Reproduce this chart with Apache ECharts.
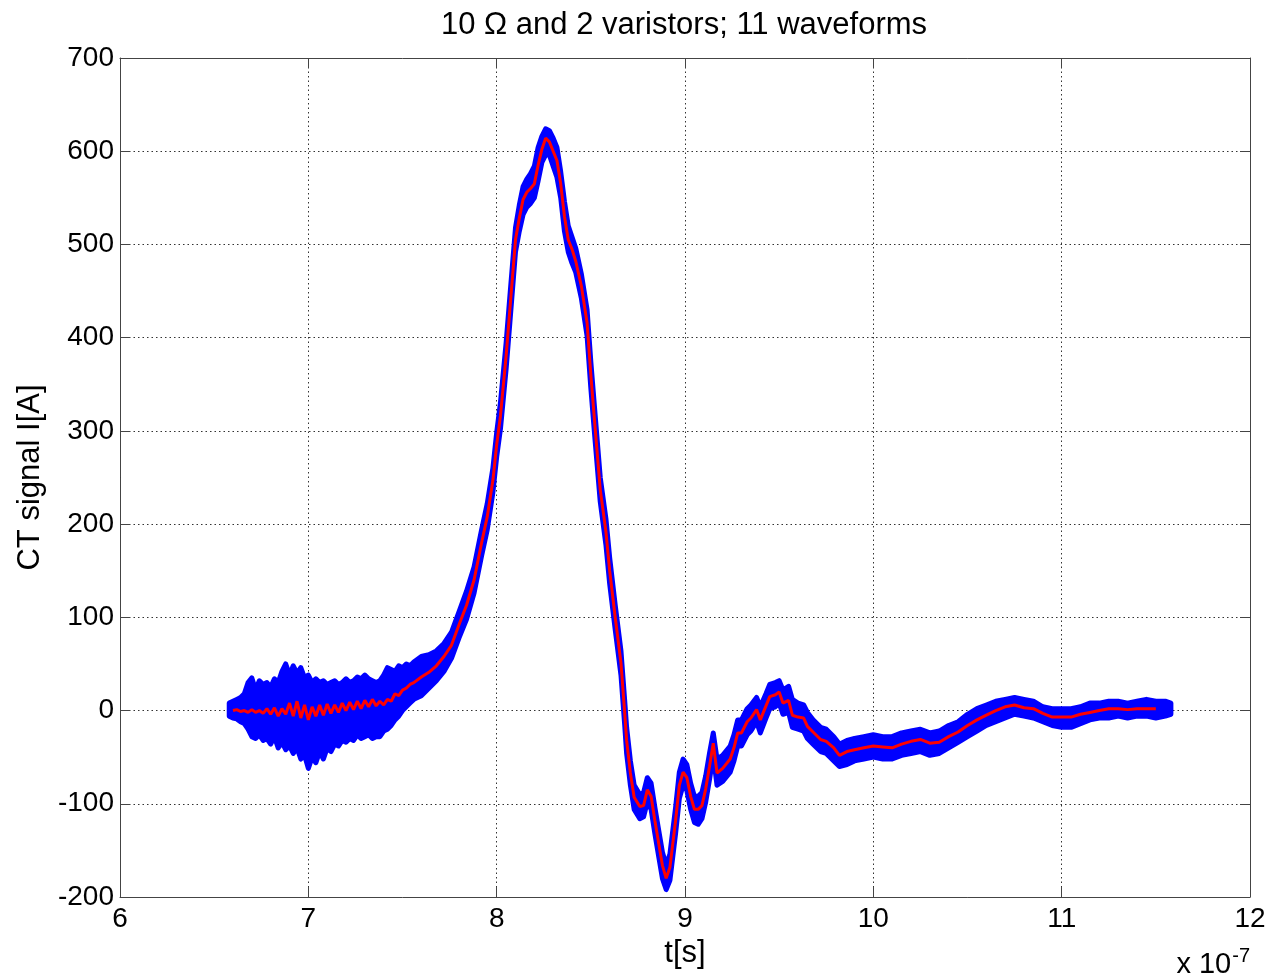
<!DOCTYPE html>
<html>
<head>
<meta charset="utf-8">
<title>CT signal</title>
<script src="https://cdn.jsdelivr.net/npm/echarts@6/dist/echarts.min.js"></script>
<style>
    html, body { margin: 0; padding: 0; background: #fff; }
    #chart { width: 1269px; height: 980px; }
</style>
</head>
<body>
<div id="chart"></div>
<script>
// time axis, in units of 1e-7 s
var T = [
    6.58, 6.60, 6.62, 6.64, 6.66, 6.68, 6.70, 6.72, 6.74, 6.76, 6.78, 6.80, 6.82, 6.84, 6.86, 6.88, 6.90, 6.92, 6.94, 6.96,
    6.98, 7.00, 7.02, 7.04, 7.06, 7.08, 7.10, 7.12, 7.14, 7.16, 7.18, 7.20, 7.22, 7.24, 7.26, 7.28, 7.30, 7.32, 7.34, 7.36,
    7.38, 7.40, 7.42, 7.44, 7.46, 7.48, 7.50, 7.52, 7.54, 7.56, 7.60, 7.64, 7.68, 7.72, 7.76, 7.80, 7.84, 7.88, 7.92, 7.95,
    7.98, 8.00, 8.02, 8.05, 8.07, 8.10, 8.12, 8.14, 8.16, 8.18, 8.20, 8.22, 8.24, 8.26, 8.28, 8.30, 8.32, 8.34, 8.36, 8.38,
    8.40, 8.42, 8.45, 8.48, 8.50, 8.52, 8.55, 8.58, 8.60, 8.63, 8.66, 8.68, 8.69, 8.71, 8.73, 8.76, 8.78, 8.80, 8.82, 8.84,
    8.86, 8.88, 8.90, 8.92, 8.95, 8.97, 8.99, 9.01, 9.03, 9.05, 9.07, 9.09, 9.11, 9.13, 9.15, 9.17, 9.20, 9.24, 9.26, 9.28,
    9.30, 9.33, 9.35, 9.38, 9.40, 9.43, 9.45, 9.48, 9.50, 9.52, 9.55, 9.57, 9.60, 9.63, 9.65, 9.68, 9.72, 9.75, 9.79, 9.82,
    9.86, 9.90, 9.95, 10.00, 10.05, 10.10, 10.15, 10.20, 10.25, 10.30, 10.35, 10.40, 10.45, 10.50, 10.55, 10.60, 10.65, 10.70, 10.75, 10.80,
    10.85, 10.90, 10.95, 11.00, 11.05, 11.10, 11.15, 11.20, 11.25, 11.30, 11.35, 11.40, 11.45, 11.50, 11.55, 11.58
];

// red: mean of the 11 waveforms [A]
var MEAN = [
    null, 0, 1, -1, 0, -2, 1, -2, 0, -3, 2, -4, 3, -6, 2, -4, 8, -6, 10, -8,
    6, -10, 4, -6, 6, -5, 7, -3, 6, -2, 8, 0, 9, 1, 10, 2, 11, 4, 12, 5,
    10, 6, 12, 10, 18, 16, 22, 24, 28, 30, 36, 41, 48, 58, 70, 92, 113, 140, 180, 208,
    247, 285, 316, 380, 430, 505, 528, 548, 556, 560, 565, 585, 602, 614, 610, 600, 590, 565, 530, 505,
    495, 482, 455, 416, 360, 310, 237, 192, 150, 99, 51, -3, -32, -67, -93, -103, -102, -85, -92, -118,
    -142, -166, -180, -168, -118, -80, -66, -72, -92, -106, -106, -102, -84, -60, -35, -67, -62, -52, -40, -24,
    -24, -12, -8, 1, -10, 5, 15, 17, 20, 8, 11, -5, -7, -8, -17, -23, -31, -33, -40, -48,
    -44, -42, -40, -38, -39, -40, -36, -33, -31, -35, -34, -28, -23, -16, -10, -5, 0, 4, 6, 3,
    2, -3, -7, -7, -7, -4, -2, 0, 2, 2, 1, 2, 2, 2, null, null
];

// blue: upper and lower edge of the scattered waveform points [A]
var UPPER = [
    8, 10, 12, 14, 18, 30, 35, 22, 32, 28, 30, 25, 34, 30, 42, 50, 38, 48, 40, 46,
    35, 38, 30, 34, 30, 32, 28, 30, 32, 28, 30, 34, 30, 32, 36, 34, 38, 34, 32, 30,
    32, 38, 46, 44, 42, 48, 46, 50, 48, 52, 58, 60, 64, 72, 84, 106, 128, 154, 194, 222,
    260, 298, 330, 394, 444, 518, 542, 562, 570, 576, 584, 604, 616, 624, 622, 614, 604, 578, 546, 520,
    508, 496, 468, 430, 374, 324, 250, 206, 164, 112, 64, 10, -18, -54, -80, -90, -88, -72, -78, -104,
    -128, -152, -166, -154, -104, -66, -52, -58, -78, -92, -92, -88, -70, -46, -24, -52, -48, -38, -26, -10,
    -10, 2, 6, 14, 4, 18, 28, 30, 32, 22, 26, 12, 8, 6, -2, -10, -18, -20, -28, -36,
    -32, -30, -28, -26, -28, -28, -24, -22, -20, -24, -22, -16, -12, -4, 2, 6, 10, 12, 14, 12,
    10, 4, 2, 2, 2, 4, 8, 8, 10, 10, 8, 10, 12, 10, 10, 8
];
var LOWER = [
    -6, -8, -9, -12, -14, -20, -28, -30, -26, -32, -30, -36, -28, -40, -34, -42, -38, -46, -40, -52,
    -48, -62, -50, -56, -44, -52, -40, -44, -36, -38, -32, -34, -30, -32, -26, -30, -28, -26, -30, -28,
    -28, -22, -20, -16, -10, -6, 0, 4, 8, 12, 16, 24, 32, 42, 56, 78, 98, 126, 166, 194,
    234, 272, 302, 366, 416, 492, 514, 532, 540, 544, 550, 568, 588, 596, 596, 584, 572, 550, 514, 492,
    480, 470, 442, 402, 346, 296, 224, 178, 136, 86, 38, -16, -46, -80, -106, -116, -114, -98, -106, -132,
    -156, -180, -192, -182, -132, -94, -80, -86, -106, -120, -122, -116, -98, -74, -48, -80, -76, -66, -54, -38,
    -38, -26, -22, -12, -24, -8, 2, 4, 8, -4, -2, -18, -20, -22, -30, -36, -44, -46, -54, -60,
    -58, -54, -52, -50, -52, -52, -48, -46, -44, -48, -46, -40, -34, -28, -22, -16, -12, -8, -4, -6,
    -8, -12, -16, -18, -18, -14, -10, -8, -8, -6, -8, -6, -6, -8, -6, -4
];

var X_TICKS = [6, 7, 8, 9, 10, 11, 12];
var Y_TICKS = [-200, -100, 0, 100, 200, 300, 400, 500, 600, 700];

var FONT = '"Liberation Sans", Arial, Helvetica, sans-serif';
var AXIS_COLOR = '#444';

var chart = echarts.init(document.getElementById('chart'), null, { renderer: 'canvas' });

var meanData = T.map(function (t, i) { return [t, MEAN[i]]; });
var bandData = T.map(function (t, i) { return [t, LOWER[i], UPPER[i]]; });

// whole blue band is drawn once, as one polygon through the axis scales
function renderBand(params, api) {
    if (params.dataIndex !== 0) return null;
    var pts = [];
    var i;
    for (i = 0; i < T.length; i++) {
        pts.push(api.coord([T[i], UPPER[i]]));
    }
    for (i = T.length - 1; i >= 0; i--) {
        pts.push(api.coord([T[i], LOWER[i]]));
    }
    return {
        type: 'polygon',
        shape: { points: pts },
        style: {
            fill: '#0000ff',
            stroke: '#0000ff',
            lineWidth: 5,
            lineJoin: 'round'
        }
    };
}

function xAxisOf(pos, showLabels) {
    return {
        type: 'value',
        position: pos,
        min: X_TICKS[0],
        max: X_TICKS[X_TICKS.length - 1],
        interval: 1,
        axisLine: { show: true, onZero: false, lineStyle: { color: AXIS_COLOR, width: 1 } },
        axisTick: { show: true, inside: true, length: 10, lineStyle: { color: AXIS_COLOR } },
        axisLabel: {
            show: showLabels,
            margin: 8,
            color: '#000',
            fontSize: 28,
            fontFamily: FONT
        },
        splitLine: {
            show: showLabels,
            lineStyle: { color: '#333', type: [1.5, 3], width: 1 }
        }
    };
}

function yAxisOf(pos, showLabels) {
    return {
        type: 'value',
        position: pos,
        min: Y_TICKS[0],
        max: Y_TICKS[Y_TICKS.length - 1],
        interval: 100,
        axisLine: { show: true, onZero: false, lineStyle: { color: AXIS_COLOR, width: 1 } },
        axisTick: { show: true, inside: true, length: 10, lineStyle: { color: AXIS_COLOR } },
        axisLabel: {
            show: showLabels,
            margin: 6,
            color: '#000',
            fontSize: 28,
            fontFamily: FONT
        },
        splitLine: {
            show: showLabels,
            lineStyle: { color: '#333', type: [1.5, 3], width: 1 }
        }
    };
}

var xBottom = xAxisOf('bottom', true);
xBottom.name = 't[s]';
xBottom.nameLocation = 'middle';
xBottom.nameGap = 34;
xBottom.nameTextStyle = { color: '#000', fontSize: 31, fontFamily: FONT };

var yLeft = yAxisOf('left', true);
yLeft.name = 'CT signal I[A]';
yLeft.nameLocation = 'middle';
yLeft.nameGap = 74;
yLeft.nameTextStyle = { color: '#000', fontSize: 31, fontFamily: FONT };

var option = {
    backgroundColor: '#fff',
    animation: false,
    title: {
        text: '10 \u03a9 and 2 varistors; 11 waveforms',
        left: 679,
        top: 5,
        textAlign: 'center',
        textStyle: { color: '#000', fontSize: 31, fontWeight: 'normal', fontFamily: FONT }
    },
    grid: { left: 120, right: 19, top: 58, bottom: 83, containLabel: false },
    xAxis: [xBottom, xAxisOf('top', false)],
    yAxis: [yLeft, yAxisOf('right', false)],
    graphic: [{
        type: 'text',
        right: 19,
        top: 946,
        style: {
            text: 'x 10{sup|-7}',
            fill: '#000',
            font: '29px ' + FONT,
            rich: {
                sup: { fontSize: 20, fontFamily: FONT, fill: '#000', verticalAlign: 'top', padding: [0, 0, 18, 1] }
            }
        }
    }],
    series: [
        {
            type: 'custom',
            name: 'waveforms',
            xAxisIndex: 0,
            yAxisIndex: 0,
            renderItem: renderBand,
            data: bandData,
            encode: { x: 0, y: [1, 2] },
            z: 2
        },
        {
            type: 'line',
            name: 'mean',
            xAxisIndex: 0,
            yAxisIndex: 0,
            data: meanData,
            showSymbol: false,
            lineStyle: { color: '#ff0000', width: 3 },
            z: 3
        }
    ]
};

chart.setOption(option);
</script>
</body>
</html>
